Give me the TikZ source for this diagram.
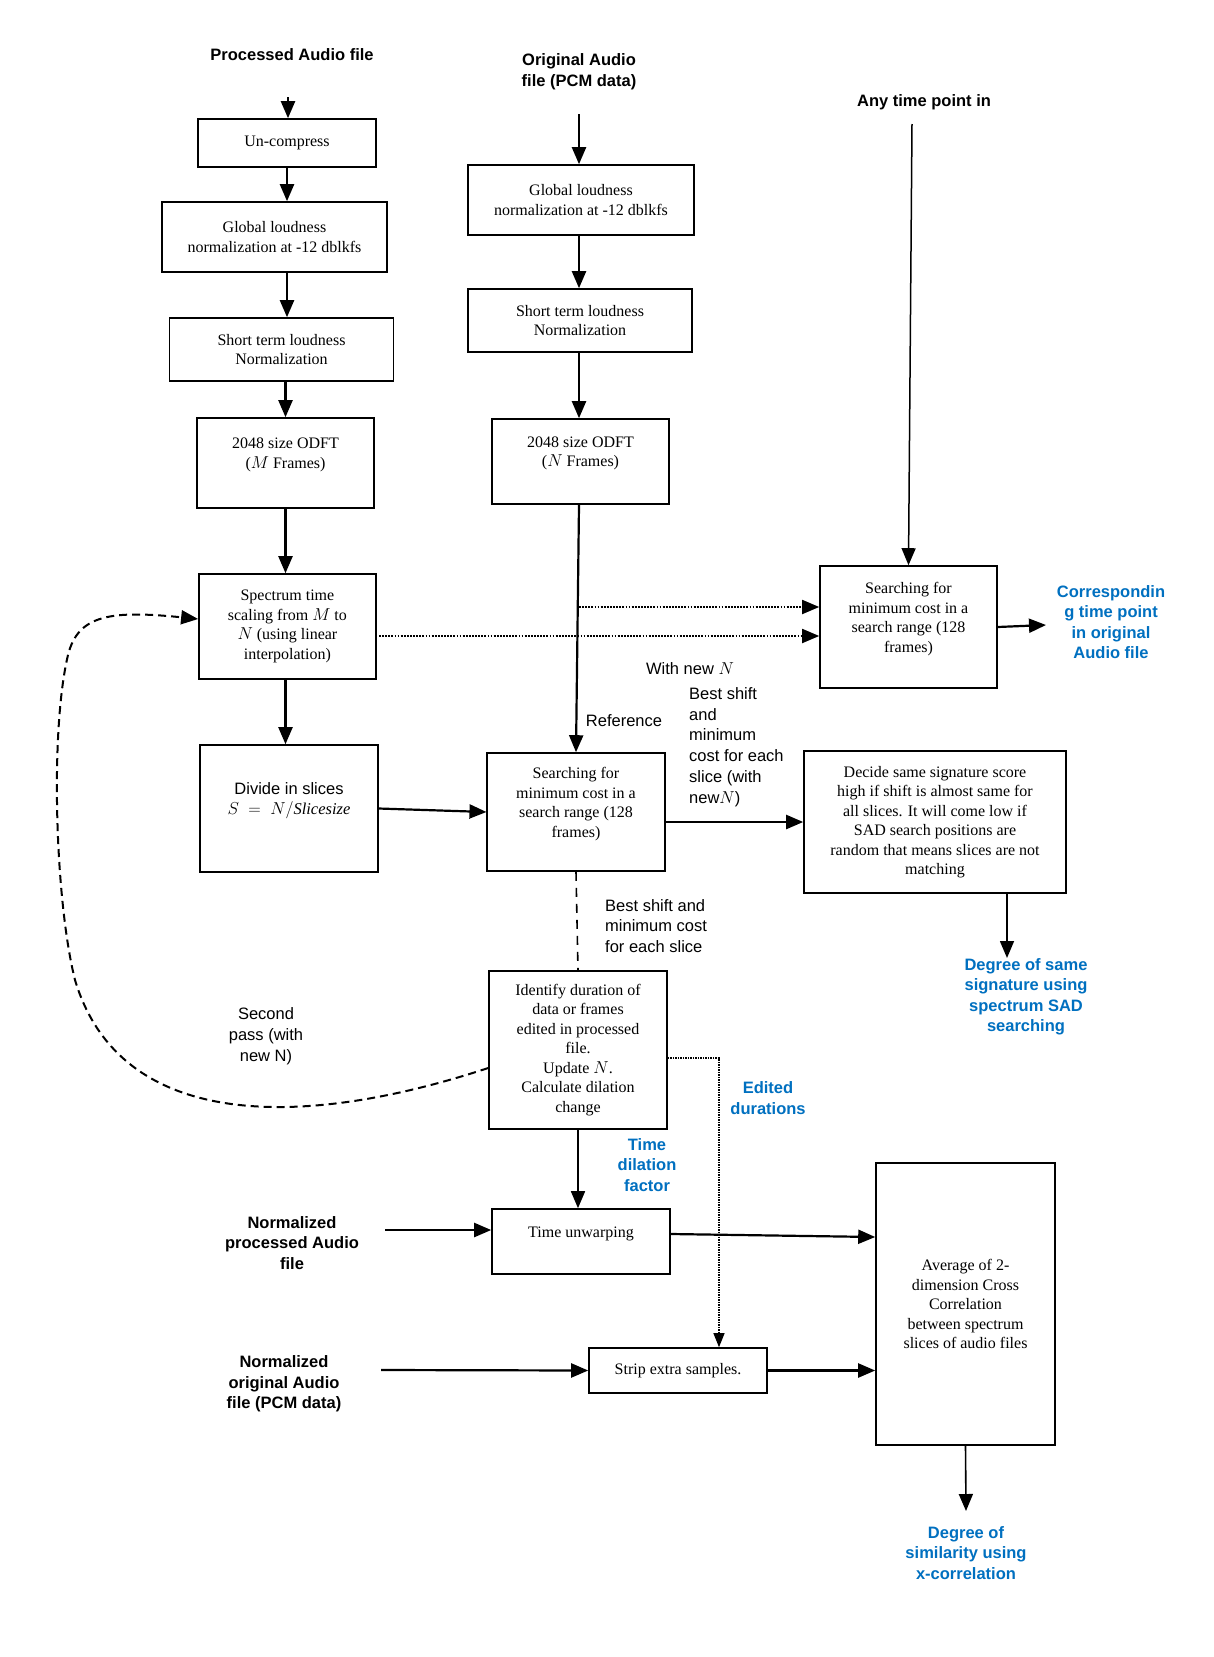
\documentclass[tikz,border=0pt]{standalone}
\usepackage{fontspec}
\setmainfont{Liberation Serif}
\setsansfont{Liberation Sans}
\usetikzlibrary{arrows.meta}

\definecolor{outblue}{RGB}{0,112,192}

\tikzset{
  procbox/.style={draw,line width=1.6pt,inner sep=2pt,align=center,
    font=\fontsize{16}{19.5}\selectfont},
  hdr/.style={align=center,inner sep=1pt,
    font=\sffamily\bfseries\fontsize{16.5}{20.5}\selectfont},
  note/.style={align=left,inner sep=1pt,
    font=\sffamily\fontsize{16.5}{20.8}\selectfont},
  outtxt/.style={align=center,inner sep=1pt,text=outblue,
    font=\sffamily\bfseries\fontsize{16.5}{20.5}\selectfont},
  flow/.style={line width=2.2pt,-{Triangle[length=17pt,width=14pt]}},
  dotflow/.style={flow,line width=1.8pt,dash pattern=on 1.8pt off 1.3pt},
  thindot/.style={line width=1.1pt,dash pattern=on 1.3pt off 1.2pt,
    -{Triangle[length=14pt,width=11pt]}},
  dashline/.style={line width=1.6pt,dash pattern=on 9pt off 7pt},
  loopline/.style={flow,line width=2pt,dash pattern=on 8pt off 5pt}
}

\begin{document}
\begin{tikzpicture}[x=1pt,y=-1pt]
            \path[fill=white,use as bounding box] (0,0) rectangle (1213,1657);

            % left column: processed file
            \node[hdr] (proc) at (292,55) {Processed Audio file};
            \node[procbox,minimum width=178pt,minimum height=48pt] (uncomp) at (287,143) {Un-compress};
            \node[procbox,minimum width=225pt,minimum height=70pt] (glolft) at (274.5,237)
               {Global loudness\\normalization at -12 dblkfs};
            \node[procbox,minimum width=224pt,minimum height=63pt] (shortlft) at (281.5,349.5)
               {Short term loudness\\Normalization};
            \node[procbox,minimum width=177pt,minimum height=90pt] (odftlft) at (285.5,463)
               {2048 size ODFT\\($M$ Frames)\\~};
            \node[procbox,minimum width=177pt,minimum height=105pt] (scale) at (287.4,626.5)
               {Spectrum time\\scaling from $M$ to\\$N$ (using linear\\interpolation)};
            \node[procbox,minimum width=177.5pt,minimum height=127pt,
               font=\sffamily\fontsize{16.5}{19.5}\selectfont] (slices) at (289,808.5)
               {Divide in slices\\$S\ =\ N/\mathit{Slicesize}$\\~};

            % middle column: original file
            \node[hdr] (orig) at (579,71.5) {Original Audio\\file (PCM data)};
            \node[procbox,minimum width=226pt,minimum height=70pt] (glomid) at (581,200)
               {Global loudness\\normalization at -12 dblkfs};
            \node[procbox,minimum width=224pt,minimum height=63pt] (shortmid) at (580,320.5)
               {Short term loudness\\Normalization};
            \node[procbox,minimum width=177pt,minimum height=85pt] (odftmid) at (580.5,461.5)
               {2048 size ODFT\\($N$ Frames)\\~};
            \node[procbox,minimum width=177.5pt,minimum height=118pt] (searchmid) at (576,812)
               {Searching for\\minimum cost in a\\search range (128\\frames)\\~};
            \node[procbox,minimum width=178pt,minimum height=158pt] (ident) at (578,1050)
               {Identify duration of\\data or frames\\edited in processed\\file.\\Update $N$.\\Calculate dilation\\change};
            \node[procbox,minimum width=178pt,minimum height=65pt] (unwarp) at (581,1241.5)
               {Time unwarping\\~};
            \node[procbox,minimum width=178pt,minimum height=45pt] (strip) at (678,1370.5)
               {Strip extra samples.};

            % right column
            \node[hdr] (anytime) at (924,102) {Any time point in};
            \node[procbox,minimum width=177pt,minimum height=122pt] (searchR) at (908.5,627)
               {Searching for\\minimum cost in a\\search range (128\\frames)\\~};
            \node[procbox,minimum width=262pt,minimum height=142pt] (decide) at (935,822)
               {Decide same signature score\\high if shift is almost same for\\all slices. It will come low if\\SAD search positions are\\random that means slices are not\\matching};
            \node[procbox,minimum width=179pt,minimum height=282pt] (avg) at (965.5,1304)
               {Average of 2-\\dimension Cross\\Correlation\\between spectrum\\slices of audio files};

            % labels
            \node[outtxt] (corr) at (1111,622) {Correspondin\\g time point\\in original\\Audio file};
            \node[note] (refer) at (624,721) {Reference};
            \node[note] (withn) at (690,669) {With new $N$};
            \node[note,anchor=west] (bestA) at (688,747)
               {Best shift\\and\\minimum\\cost for each\\slice (with\\new$N$)};
            \node[note,anchor=west] (bestB) at (604,926) {Best shift and\\minimum cost\\for each slice};
            \node[outtxt] (degsame) at (1026,997) {Degree of same\\signature using\\spectrum SAD\\searching};
            \node[note,align=center] (second) at (266,1036) {Second\\pass (with\\new N)};
            \node[outtxt] (edited) at (768,1098) {Edited\\durations};
            \node[outtxt] (dilation) at (647,1165) {Time\\dilation\\factor};
            \node[hdr] (normproc) at (292,1243) {Normalized\\processed Audio\\file};
            \node[hdr] (normorig) at (284,1384) {Normalized\\original Audio\\file (PCM data)};
            \node[outtxt] (degsim) at (966,1553) {Degree of\\similarity using\\x-correlation};

            \coordinate (procin) at (288,97);
            \coordinate (origtop) at (579,114);
            \coordinate (anytop) at (912,124);
            \coordinate (corrin) at (1046,625);
            \coordinate (tapA) at (579,607);
            \coordinate (tapB) at (379,636);
            \coordinate (samein) at (1007,958);
            \coordinate (editA) at (719,1058);
            \coordinate (normprocout) at (385,1230);
            \coordinate (normorigout) at (381,1370);
            \coordinate (simin) at (966,1511);

            % left chain
            \draw[flow] (procin) -- (procin |- uncomp.north);
            \draw[flow] (uncomp.south) -- (uncomp.south |- glolft.north);
            \draw[flow] (uncomp.south |- glolft.south) -- (uncomp.south |- shortlft.north);
            \draw[flow] (odftlft.north |- shortlft.south) -- (odftlft.north);
            \draw[flow] (odftlft.south) -- (odftlft.south |- scale.north);
            \draw[flow] (odftlft.south |- scale.south) -- (odftlft.south |- slices.north);

            % middle chain
            \draw[flow] (origtop) -- (origtop |- glomid.north);
            \draw[flow] (origtop |- glomid.south) -- (origtop |- shortmid.north);
            \draw[flow] (origtop |- shortmid.south) -- (origtop |- odftmid.north);
            \draw[flow] (origtop |- odftmid.south) -- (searchmid.north);
            \draw[flow] (slices.east) -- (searchmid.west);
            \draw[flow] (decide.west -| searchmid.east) -- (decide.west);
            \draw[dashline] (searchmid.south) -- (ident.north);

            % right side
            \draw[flow,line width=1.5pt] (anytop) -- (searchR.north);
            \draw[flow] (searchR.east) -- (corrin);
            \draw[dotflow] (tapA) -- (searchR.west |- tapA);
            \draw[dotflow] (tapB) -- (searchR.west |- tapB);
            \draw[flow,line width=1.6pt] (decide.south -| samein) -- (samein);

            % second pass
            \draw[loopline] (ident.west |- 0,1068)
               .. controls (300,1130) and (120,1130) .. (75,980)
               .. controls (55,900) and (50,730) .. (68,655)
               .. controls (78,615) and (110,610) .. (scale.west |- 0,619);

            % lower part
            \draw[thindot] (ident.east |- editA) -- (editA) -- (editA |- strip.north);
            \draw[flow,line width=1.6pt] (ident.south) -- (ident.south |- unwarp.north);
            \draw[flow] (normprocout) -- (unwarp.west |- normprocout);
            \draw[flow] (unwarp.east |- 0,1234) -- (avg.west |- 0,1237);
            \draw[flow] (normorigout) -- (strip.west);
            \draw[flow] (strip.east) -- (avg.west |- strip.east);
            \draw[flow,line width=1.6pt] (avg.south) -- (simin);
\end{tikzpicture}
\end{document}
